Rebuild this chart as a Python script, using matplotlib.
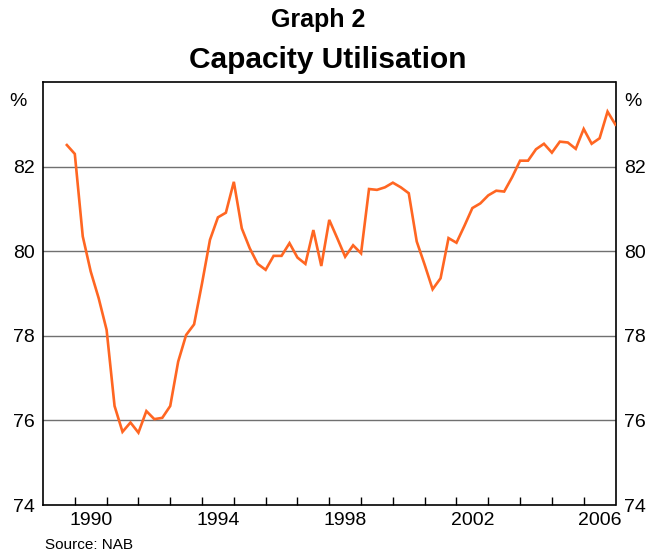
import matplotlib
matplotlib.use("Agg")
import matplotlib.pyplot as plt
import numpy as np

plt.rcParams['font.family'] = ['Liberation Sans', 'DejaVu Sans']

# Quarterly capacity utilisation (%), from Sep quarter 1989
start_year = 1989.75
utilisation = [
    82.51, 82.30, 80.35, 79.52, 78.89, 78.14, 76.34, 75.73, 75.95, 75.71,
    76.22, 76.03, 76.06, 76.34, 77.39, 78.02, 78.27, 79.24, 80.27, 80.80,
    80.91, 81.64, 80.54, 80.07, 79.70, 79.56, 79.89, 79.89, 80.19, 79.85,
    79.70, 80.50, 79.65, 80.74, 80.31, 79.87, 80.14, 79.95, 81.47, 81.45,
    81.51, 81.62, 81.51, 81.37, 80.23, 79.68, 79.10, 79.36, 80.31, 80.20,
    80.60, 81.02, 81.13, 81.32, 81.43, 81.41, 81.75, 82.14, 82.14, 82.41,
    82.54, 82.33, 82.59, 82.57, 82.42, 82.89, 82.54, 82.67, 83.30, 82.99,
]
year_labels = [1990, 1994, 1998, 2002, 2006]
y_ticks = [74, 76, 78, 80, 82]

x = start_year + 0.25 * np.arange(len(utilisation))

fig = plt.figure(figsize=(6.47, 5.53), dpi=100)
ax = fig.add_axes([43/647, 1 - 505/553, (615.5 - 43)/647, (505 - 82)/553])

ax.plot(x, utilisation, color='#FF6622', lw=1.9, solid_joinstyle='miter', zorder=3)

ax.set_xlim(1989, 2007)
ax.set_ylim(74, 84)

for v in y_ticks[1:]:
    ax.axhline(v, color='#707070', lw=1.0, zorder=1)

ax.set_yticks(y_ticks)
ax.set_yticklabels([str(v) for v in y_ticks])
ax.tick_params(axis='y', length=0, labelsize=14, labelleft=True, labelright=True, pad=6)

ax.set_xticks(np.arange(1990, 2007))
ax.set_xticklabels([])
ax.set_xticks([y + 0.5 for y in year_labels], minor=True)
ax.set_xticklabels([str(y) for y in year_labels], minor=True)
ax.tick_params(axis='x', which='major', direction='in', length=6, width=1, color='black')
ax.tick_params(axis='x', which='minor', length=0, labelsize=14, pad=5)

for s in ax.spines.values():
    s.set_linewidth(1.2)
    s.set_color('black')

ax.text(-0.028, 0.975, '%', transform=ax.transAxes, ha='right', va='top', fontsize=14)
ax.text(1.015, 0.975, '%', transform=ax.transAxes, ha='left', va='top', fontsize=14)

fig.text(0.492, 1 - 20/553, 'Graph 2', ha='center', va='center', fontsize=18, fontweight='bold')
fig.text(0.507, 1 - 60/553, 'Capacity Utilisation', ha='center', va='center', fontsize=21.5, fontweight='bold')
fig.text(45/647, 1 - 545/553, 'Source: NAB', ha='left', va='center', fontsize=11)

fig.savefig('out.png', dpi=100)
